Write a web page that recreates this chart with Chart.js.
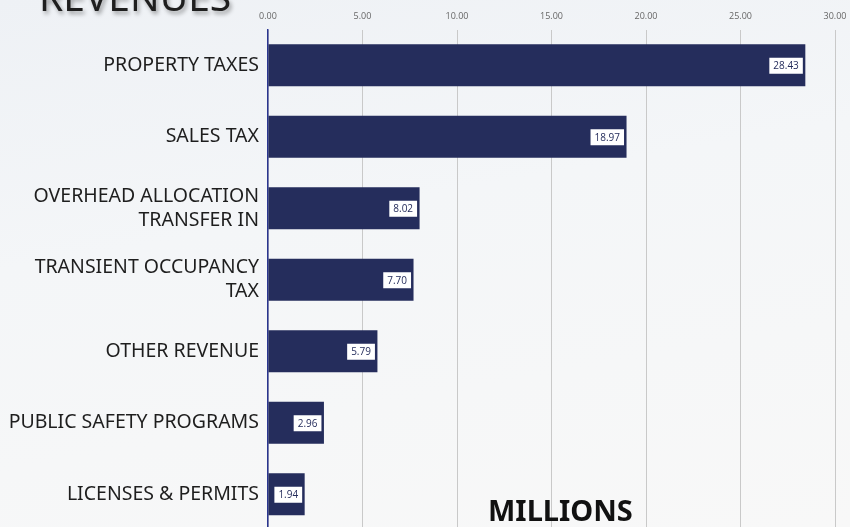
<!DOCTYPE html>
<html>
<head>
<meta charset="utf-8">
<script src="https://cdn.jsdelivr.net/npm/chart.js@4"></script>
<style>
  html, body { margin: 0; padding: 0; width: 850px; height: 527px; overflow: hidden; }
  body {
    position: relative;
    background: linear-gradient(170deg, #eef1f5 0%, #f4f6f8 40%, #f8f8f8 100%);
    font-family: "Noto Sans", sans-serif;
  }
  #wrap { position: absolute; left: 0; top: 0; width: 850px; height: 530px; }
  #title {
    position: absolute; left: 39px; top: -31px;
    font-size: 39px; color: #1e1e1e;
    text-shadow: 2px 3px 4px rgba(0,0,0,0.35);
  }
  #unit {
    position: absolute; left: 488px; top: 490px;
    font-size: 29px; font-weight: bold; color: #111;
  }
</style>
</head>
<body>
<div id="wrap"><canvas id="myChart"></canvas></div>
<div id="title">REVENUES</div>
<div id="unit">MILLIONS</div>
<script>
const categories = [
    'PROPERTY TAXES',
    'SALES TAX',
    ['OVERHEAD ALLOCATION', 'TRANSFER IN'],
    ['TRANSIENT OCCUPANCY', 'TAX'],
    'OTHER REVENUE',
    'PUBLIC SAFETY PROGRAMS',
    'LICENSES & PERMITS'
];
const revenues = [ 28.43, 18.97, 8.02, 7.70, 5.79, 2.96, 1.94 ];
const tickValues = [ 0, 5, 10, 15, 20, 25, 30 ];

const NAVY = '#252d5c';

// white value boxes at the end of each bar
const valueBoxes = {
    id: 'valueBoxes',
    afterDatasetsDraw( chart ) {
        const { ctx } = chart;
        const meta = chart.getDatasetMeta( 0 );
        ctx.save();
        ctx.font = '10px "Open Sans", sans-serif';
        ctx.textAlign = 'center';
        ctx.textBaseline = 'middle';
        meta.data.forEach( ( bar, i ) => {
            const txt = revenues[i].toFixed( 2 );
            const w = ctx.measureText( txt ).width + 8;
            const h = 16;
            const right = bar.x - 2.5;
            ctx.fillStyle = '#ffffff';
            ctx.fillRect( right - w, bar.y - h / 2 + 0.5, w, h );
            ctx.fillStyle = NAVY;
            ctx.fillText( txt, right - w / 2, bar.y + 1 );
        });
        ctx.restore();
    }
};

new Chart( document.getElementById('myChart'), {
    type: 'bar',
    data: {
        labels: categories,
        datasets: [{
            data: revenues,
            backgroundColor: NAVY,
            borderWidth: 0,
            categoryPercentage: 1,
            barPercentage: 0.59
        }]
    },
    options: {
        animation: false,
        responsive: true,
        maintainAspectRatio: false,
        indexAxis: 'y',
        layout: { padding: { left: 0, right: 15, top: 0, bottom: 0 } },
        plugins: {
            legend: { display: false },
            tooltip: { enabled: false }
        },
        scales: {
            x: {
                position: 'top',
                min: 0,
                max: 30,
                afterBuildTicks: scale => {
                    scale.ticks = tickValues.map( v => ({ value: v }) );
                },
                afterFit: scale => {
                    scale.height = 29.5;
                    scale.paddingLeft = 0;
                    scale.paddingRight = 0;
                },
                ticks: {
                    color: '#666',
                    font: { family: '"Open Sans", sans-serif', size: 9 },
                    padding: 8,
                    maxRotation: 0,
                    callback: v => Number( v ).toFixed( 2 )
                },
                grid: {
                    color: '#c9c9c9',
                    lineWidth: 1,
                    drawTicks: false
                },
                border: { display: false }
            },
            y: {
                afterFit: scale => {
                    scale.width = 268;
                    scale.paddingTop = 0;
                    scale.paddingBottom = 0;
                },
                ticks: {
                    color: '#1e1e1e',
                    font: { family: '"Noto Sans", sans-serif', size: 19.5, lineHeight: 1.23 },
                    padding: 9
                },
                grid: { display: false, drawTicks: false, tickLength: 0 },
                border: { color: '#2a3590', width: 1.5 }
            }
        }
    },
    plugins: [ valueBoxes ]
});
</script>
</body>
</html>
